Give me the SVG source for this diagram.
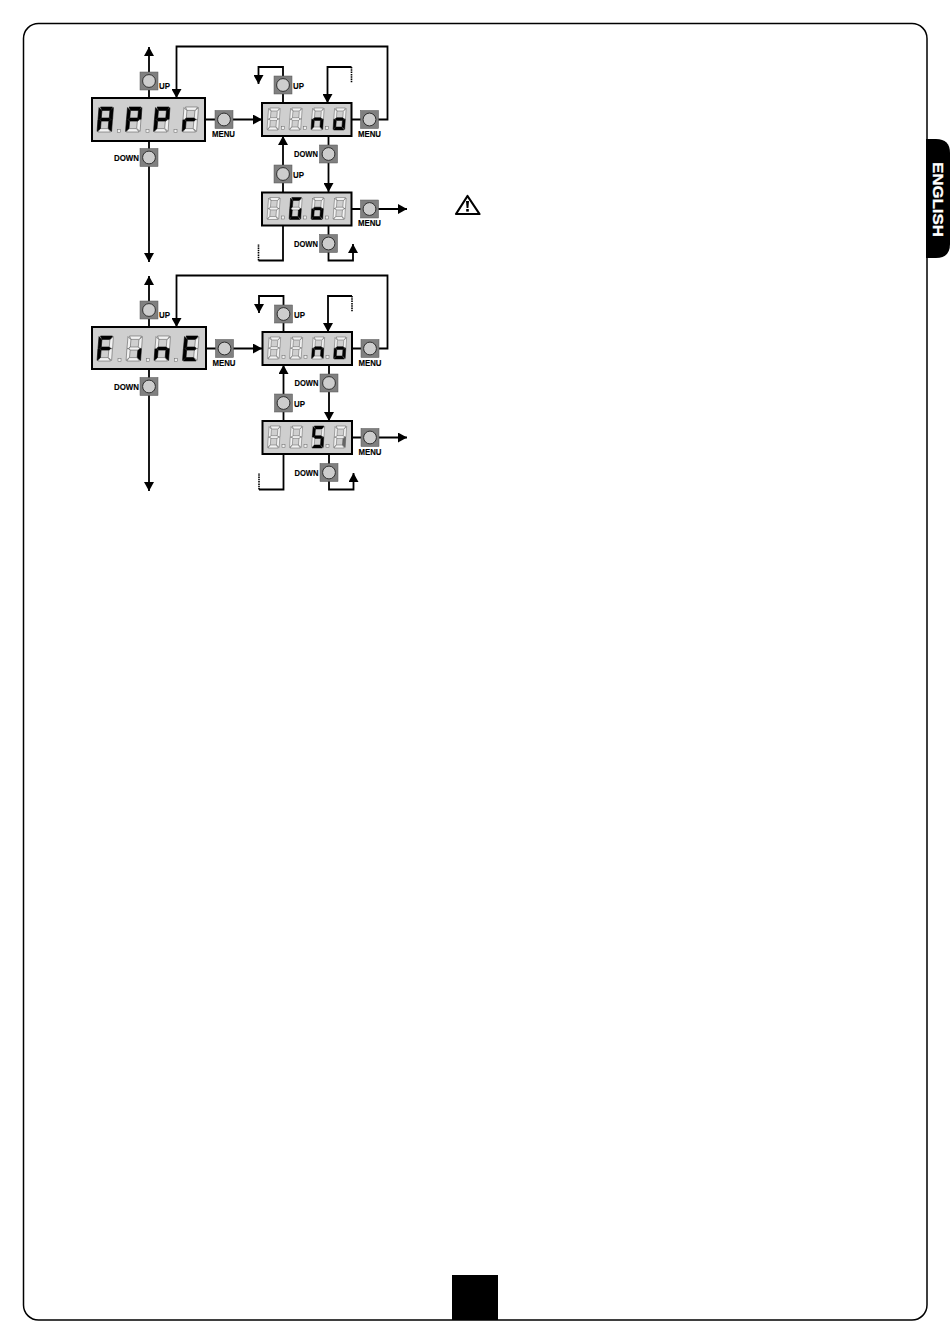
<svg xmlns="http://www.w3.org/2000/svg" width="950" height="1344" viewBox="0 0 950 1344">
<style>
.ln{fill:none;stroke:#000;stroke-width:1.8}
.dash{fill:none;stroke:#000;stroke-width:1.6;stroke-dasharray:1.5 .8}
.box{fill:#cfcfcf;stroke:#000;stroke-width:2}
.on{fill:#000;stroke:#000;stroke-width:.6}
.off{fill:#f2f2f2;stroke:#444;stroke-width:.5}
.mid{fill:#666;stroke:#444;stroke-width:.5}
.dot{fill:#f0f0f0;stroke:#666;stroke-width:.5}
.lb{font-family:"Liberation Sans",Arial,sans-serif;font-weight:700;font-size:9.5px;fill:#000;stroke:#000;stroke-width:.15}
</style>
<defs>
<marker id="ah" viewBox="0 0 9 10" refX="9" refY="5" markerWidth="9" markerHeight="10" markerUnits="userSpaceOnUse" orient="auto"><path d="M0,0L9,5L0,10z" fill="#000"/></marker>
<g id="btn"><rect x="-9" y="-9" width="18" height="18" fill="#808080" stroke="#555" stroke-width=".5"/><circle r="6.4" fill="#cdcdcd" stroke="#222" stroke-width=".9"/></g>
<polygon id="a" points="3.5,0 15.5,0 13.6,3.4 5,3.4"/>
<polygon id="b" points="16.4,.6 15.6,12.4 13.9,12.4 12.3,10.8 12.9,3.8"/>
<polygon id="c" points="15.4,12.7 14.6,24.4 11.2,21.4 11.8,14.4 13.7,12.7"/>
<polygon id="d" points=".8,25 13.6,25 10.9,21.6 3.3,21.6"/>
<polygon id="e" points=".9,12.7 2.6,12.7 4.1,14.4 3.5,21.4 .1,24.4"/>
<polygon id="f" points="2,.6 4.9,3.8 4.3,10.8 2.7,12.4 1,12.4"/>
<polygon id="g" points="2.9,12.5 4.5,11 12.1,11 13.7,12.5 12,14.1 4.4,14.1"/>
<g id="dA"><use href="#a" class="on"/><use href="#b" class="on"/><use href="#c" class="on"/><use href="#d" class="off"/><use href="#e" class="on"/><use href="#f" class="on"/><use href="#g" class="on"/></g>
<g id="dP"><use href="#a" class="on"/><use href="#b" class="on"/><use href="#c" class="off"/><use href="#d" class="off"/><use href="#e" class="on"/><use href="#f" class="on"/><use href="#g" class="on"/></g>
<g id="dr"><use href="#a" class="off"/><use href="#b" class="off"/><use href="#c" class="off"/><use href="#d" class="off"/><use href="#e" class="on"/><use href="#f" class="off"/><use href="#g" class="on"/></g>
<g id="dF"><use href="#a" class="on"/><use href="#b" class="off"/><use href="#c" class="off"/><use href="#d" class="off"/><use href="#e" class="on"/><use href="#f" class="on"/><use href="#g" class="on"/></g>
<g id="di"><use href="#a" class="off"/><use href="#b" class="off"/><use href="#c" class="on"/><use href="#d" class="off"/><use href="#e" class="off"/><use href="#f" class="off"/><use href="#g" class="off"/></g>
<g id="dj"><use href="#a" class="off"/><use href="#b" class="off"/><use href="#c" class="mid"/><use href="#d" class="off"/><use href="#e" class="off"/><use href="#f" class="off"/><use href="#g" class="off"/></g>
<g id="dn"><use href="#a" class="off"/><use href="#b" class="off"/><use href="#c" class="on"/><use href="#d" class="off"/><use href="#e" class="on"/><use href="#f" class="off"/><use href="#g" class="on"/></g>
<g id="dE"><use href="#a" class="on"/><use href="#b" class="off"/><use href="#c" class="off"/><use href="#d" class="on"/><use href="#e" class="on"/><use href="#f" class="on"/><use href="#g" class="on"/></g>
<g id="do"><use href="#a" class="off"/><use href="#b" class="off"/><use href="#c" class="on"/><use href="#d" class="on"/><use href="#e" class="on"/><use href="#f" class="off"/><use href="#g" class="on"/></g>
<g id="dG"><use href="#a" class="on"/><use href="#b" class="off"/><use href="#c" class="on"/><use href="#d" class="on"/><use href="#e" class="on"/><use href="#f" class="on"/><use href="#g" class="off"/></g>
<g id="dS"><use href="#a" class="on"/><use href="#b" class="off"/><use href="#c" class="on"/><use href="#d" class="on"/><use href="#e" class="off"/><use href="#f" class="on"/><use href="#g" class="on"/></g>
<g id="dx"><use href="#a" class="off"/><use href="#b" class="off"/><use href="#c" class="off"/><use href="#d" class="off"/><use href="#e" class="off"/><use href="#f" class="off"/><use href="#g" class="off"/></g>
<g id="small"><rect x="0" y="0" width="89.5" height="33" class="box"/><rect x="19.5" y="23.5" width="3" height="3" class="dot"/><rect x="41.5" y="23.5" width="3" height="3" class="dot"/><rect x="63.5" y="23.5" width="3" height="3" class="dot"/></g>
</defs>
<rect id="page" x="23.5" y="23.5" width="903.5" height="1296.5" rx="15" fill="#fff" stroke="#000" stroke-width="1.5"/>
<g id="tab"><path d="M926,139H936Q950,139 950,153V244Q950,258 936,258H926z" fill="#000"/>
<text transform="translate(933,162) rotate(90)" font-family="'Liberation Sans',Arial,sans-serif" font-weight="700" font-size="14" stroke="#fff" stroke-width=".3" fill="#fff" textLength="75" lengthAdjust="spacingAndGlyphs">ENGLISH</text></g>
<rect id="pagebox" x="452" y="1275" width="46" height="45" fill="#000"/>
<g id="warning"><path d="M467.5,196L479.5,214H456z" fill="#fff" stroke="#000" stroke-width="2.2" stroke-linejoin="round"/><path d="M466,201h3l-.6,7h-1.800z" fill="#000"/><rect x="466.200" y="209" width="2.600" height="2.600" fill="#000"/></g>
<g id="connectors">
<path class="ln" d="M149,98V47" marker-end="url(#ah)"/>
<path class="ln" d="M149,140V262" marker-end="url(#ah)"/>
<path class="ln" d="M205,119.5H262" marker-end="url(#ah)"/>
<path class="ln" d="M352,119.5H387.5V46.5H176.500V98" marker-end="url(#ah)"/>
<path class="ln" d="M283,103V67H258.500V84" marker-end="url(#ah)"/>
<path class="ln" d="M351.5,67H327.500V103" marker-end="url(#ah)"/>
<path class="dash" d="M351.5,67V83"/>
<path class="ln" d="M328.5,136V192" marker-end="url(#ah)"/>
<path class="ln" d="M283,192V136" marker-end="url(#ah)"/>
<path class="ln" d="M352,209H407" marker-end="url(#ah)"/>
<path class="ln" d="M283,226V260.500H258.500"/>
<path class="dash" d="M258.5,260.500V244"/>
<path class="ln" d="M328.5,226V260.500H353V244" marker-end="url(#ah)"/>
<path class="ln" d="M149,327V276" marker-end="url(#ah)"/>
<path class="ln" d="M149,369V491" marker-end="url(#ah)"/>
<path class="ln" d="M206,348.5H262" marker-end="url(#ah)"/>
<path class="ln" d="M352,348.5H387.5V275.500H176.500V327" marker-end="url(#ah)"/>
<path class="ln" d="M283.5,332V296H259V313" marker-end="url(#ah)"/>
<path class="ln" d="M352,296H328V332" marker-end="url(#ah)"/>
<path class="dash" d="M352,296V312"/>
<path class="ln" d="M329,365V421" marker-end="url(#ah)"/>
<path class="ln" d="M283.5,421V365" marker-end="url(#ah)"/>
<path class="ln" d="M352,437.5H407" marker-end="url(#ah)"/>
<path class="ln" d="M283.5,454V489.500H259"/>
<path class="dash" d="M259,489.5V473"/>
<path class="ln" d="M329,454V489.500H353.500V473" marker-end="url(#ah)"/>
</g>
<g id="display-appr"><rect x="92" y="98" width="113" height="43" class="box"/><rect x="117.5" y="129.5" width="3" height="3" class="dot"/><rect x="146" y="129.5" width="3" height="3" class="dot"/><rect x="174" y="129.5" width="3" height="3" class="dot"/><use href="#dA" transform="translate(97,107)"/><use href="#dP" transform="translate(125.5,107)"/><use href="#dP" transform="translate(153.5,107)"/><use href="#dr" transform="translate(182,107)"/></g>
<g id="btn-up-1"><use href="#btn" x="149" y="81"/><text class="lb" x="159" y="89" textLength="11" lengthAdjust="spacingAndGlyphs">UP</text></g>
<g id="btn-down-1"><use href="#btn" x="149" y="157.5"/><text class="lb" x="114" y="161" textLength="25" lengthAdjust="spacingAndGlyphs">DOWN</text></g>
<g id="btn-menu-1"><use href="#btn" x="224" y="119.5"/><text class="lb" x="212" y="137" textLength="23" lengthAdjust="spacingAndGlyphs">MENU</text></g>
<g id="display-no-1"><use href="#small" transform="translate(262,103)"/><g transform="translate(267,108) scale(.8,.88)"><use href="#dx"/></g><g transform="translate(289,108) scale(.8,.88)"><use href="#dx"/></g><g transform="translate(311,108) scale(.8,.88)"><use href="#dn"/></g><g transform="translate(333,108) scale(.8,.88)"><use href="#do"/></g></g>
<g id="btn-up-2"><use href="#btn" x="283" y="85"/><text class="lb" x="293" y="89" textLength="11" lengthAdjust="spacingAndGlyphs">UP</text></g>
<g id="btn-menu-2"><use href="#btn" x="369.5" y="119.5"/><text class="lb" x="358" y="137" textLength="23" lengthAdjust="spacingAndGlyphs">MENU</text></g>
<g id="btn-down-2"><use href="#btn" x="328.5" y="154"/><text class="lb" x="294" y="157" textLength="24" lengthAdjust="spacingAndGlyphs">DOWN</text></g>
<g id="btn-up-3"><use href="#btn" x="283" y="174"/><text class="lb" x="293" y="178" textLength="11" lengthAdjust="spacingAndGlyphs">UP</text></g>
<g id="display-go"><use href="#small" transform="translate(262,192.5)"/><g transform="translate(267,197.5) scale(.8,.88)"><use href="#dx"/></g><g transform="translate(289,197.5) scale(.8,.88)"><use href="#dG"/></g><g transform="translate(311,197.5) scale(.8,.88)"><use href="#do"/></g><g transform="translate(333,197.5) scale(.8,.88)"><use href="#dx"/></g></g>
<g id="btn-menu-3"><use href="#btn" x="369.5" y="209"/><text class="lb" x="358" y="226" textLength="23" lengthAdjust="spacingAndGlyphs">MENU</text></g>
<g id="btn-down-3"><use href="#btn" x="328.5" y="243.5"/><text class="lb" x="294" y="247" textLength="24" lengthAdjust="spacingAndGlyphs">DOWN</text></g>
<g id="display-fine"><rect x="92" y="327" width="114" height="42" class="box"/><rect x="118" y="358.5" width="3" height="3" class="dot"/><rect x="146.5" y="358.5" width="3" height="3" class="dot"/><rect x="174.5" y="358.5" width="3" height="3" class="dot"/><use href="#dF" transform="translate(97,336)"/><use href="#di" transform="translate(126,336)"/><use href="#dn" transform="translate(154,336)"/><use href="#dE" transform="translate(182.5,336)"/></g>
<g id="btn-up-4"><use href="#btn" x="149" y="310"/><text class="lb" x="159" y="318" textLength="11" lengthAdjust="spacingAndGlyphs">UP</text></g>
<g id="btn-down-4"><use href="#btn" x="149" y="386.5"/><text class="lb" x="114" y="390" textLength="25" lengthAdjust="spacingAndGlyphs">DOWN</text></g>
<g id="btn-menu-4"><use href="#btn" x="224.5" y="348.5"/><text class="lb" x="212.5" y="366" textLength="23" lengthAdjust="spacingAndGlyphs">MENU</text></g>
<g id="display-no-2"><use href="#small" transform="translate(262.5,332)"/><g transform="translate(267.5,337) scale(.8,.88)"><use href="#dx"/></g><g transform="translate(289.5,337) scale(.8,.88)"><use href="#dx"/></g><g transform="translate(311.5,337) scale(.8,.88)"><use href="#dn"/></g><g transform="translate(333.5,337) scale(.8,.88)"><use href="#do"/></g></g>
<g id="btn-up-5"><use href="#btn" x="283.5" y="314"/><text class="lb" x="294" y="318" textLength="11" lengthAdjust="spacingAndGlyphs">UP</text></g>
<g id="btn-menu-5"><use href="#btn" x="370" y="348.5"/><text class="lb" x="358.5" y="366" textLength="23" lengthAdjust="spacingAndGlyphs">MENU</text></g>
<g id="btn-down-5"><use href="#btn" x="329" y="383"/><text class="lb" x="294.5" y="386" textLength="24" lengthAdjust="spacingAndGlyphs">DOWN</text></g>
<g id="btn-up-6"><use href="#btn" x="283.5" y="403"/><text class="lb" x="294" y="407" textLength="11" lengthAdjust="spacingAndGlyphs">UP</text></g>
<g id="display-si"><use href="#small" transform="translate(262.5,421)"/><g transform="translate(267.5,426) scale(.8,.88)"><use href="#dx"/></g><g transform="translate(289.5,426) scale(.8,.88)"><use href="#dx"/></g><g transform="translate(311.5,426) scale(.8,.88)"><use href="#dS"/></g><g transform="translate(333.5,426) scale(.8,.88)"><use href="#dj"/></g></g>
<g id="btn-menu-6"><use href="#btn" x="370" y="437.5"/><text class="lb" x="358.5" y="455" textLength="23" lengthAdjust="spacingAndGlyphs">MENU</text></g>
<g id="btn-down-6"><use href="#btn" x="329" y="472.5"/><text class="lb" x="294.5" y="476" textLength="24" lengthAdjust="spacingAndGlyphs">DOWN</text></g>
</svg>
